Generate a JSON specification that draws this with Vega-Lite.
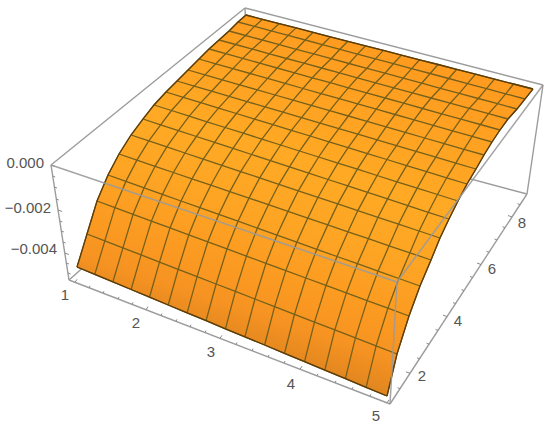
{"$schema":"https://vega.github.io/schema/vega-lite/v6.json","width":550,"height":427,"padding":0,"autosize":"none","background":"white","config":{"view":{"stroke":null}},
"datasets":{
"surface":[{"o":0,"x":246,"y":15},{"o":1,"x":238,"y":22},{"o":2,"x":229,"y":31},{"o":3,"x":219,"y":40},{"o":4,"x":209,"y":49},{"o":5,"x":199,"y":59},{"o":6,"x":188,"y":70},{"o":7,"x":177,"y":81},{"o":8,"x":166,"y":92},{"o":9,"x":154,"y":105},{"o":10,"x":143,"y":119},{"o":11,"x":131,"y":135},{"o":12,"x":119,"y":154},{"o":13,"x":108,"y":175},{"o":14,"x":97,"y":201},{"o":15,"x":87,"y":234},{"o":16,"x":77,"y":267},{"o":17,"x":387,"y":396},{"o":18,"x":397,"y":354},{"o":19,"x":409,"y":316},{"o":20,"x":420,"y":286},{"o":21,"x":431,"y":260},{"o":22,"x":440,"y":238},{"o":23,"x":449,"y":219},{"o":24,"x":458,"y":201},{"o":25,"x":467,"y":184},{"o":26,"x":476,"y":169},{"o":27,"x":484,"y":155},{"o":28,"x":492,"y":142},{"o":29,"x":500,"y":130},{"o":30,"x":508,"y":119},{"o":31,"x":517,"y":109},{"o":32,"x":525,"y":99},{"o":33,"x":533,"y":89}],
"mesh":[
{"r":0,"c":0,"x":246,"y":15},{"r":0,"c":1,"x":262.5,"y":19.3},{"r":0,"c":2,"x":279.2,"y":23.6},{"r":0,"c":3,"x":296.1,"y":27.9},{"r":0,"c":4,"x":313.2,"y":32.3},{"r":0,"c":5,"x":330.4,"y":36.8},{"r":0,"c":6,"x":347.9,"y":41.3},{"r":0,"c":7,"x":365.5,"y":45.8},{"r":0,"c":8,"x":383.4,"y":50.4},{"r":0,"c":9,"x":401.4,"y":55.1},{"r":0,"c":10,"x":419.6,"y":59.8},{"r":0,"c":11,"x":438.1,"y":64.5},{"r":0,"c":12,"x":456.7,"y":69.3},{"r":0,"c":13,"x":475.5,"y":74.2},{"r":0,"c":14,"x":494.5,"y":79.1},{"r":0,"c":15,"x":513.6,"y":84},{"r":0,"c":16,"x":533,"y":89},
{"r":1,"c":0,"x":238,"y":22},{"r":1,"c":1,"x":254.5,"y":26.4},{"r":1,"c":2,"x":271.2,"y":30.9},{"r":1,"c":3,"x":288.1,"y":35.4},{"r":1,"c":4,"x":305.2,"y":40},{"r":1,"c":5,"x":322.4,"y":44.7},{"r":1,"c":6,"x":339.9,"y":49.3},{"r":1,"c":7,"x":357.5,"y":54.1},{"r":1,"c":8,"x":375.4,"y":58.9},{"r":1,"c":9,"x":393.4,"y":63.7},{"r":1,"c":10,"x":411.6,"y":68.6},{"r":1,"c":11,"x":430.1,"y":73.5},{"r":1,"c":12,"x":448.7,"y":78.5},{"r":1,"c":13,"x":467.5,"y":83.6},{"r":1,"c":14,"x":486.5,"y":88.7},{"r":1,"c":15,"x":505.6,"y":93.8},{"r":1,"c":16,"x":525,"y":99},
{"r":2,"c":0,"x":229,"y":31},{"r":2,"c":1,"x":245.6,"y":35.5},{"r":2,"c":2,"x":262.3,"y":40},{"r":2,"c":3,"x":279.3,"y":44.6},{"r":2,"c":4,"x":296.4,"y":49.3},{"r":2,"c":5,"x":313.7,"y":53.9},{"r":2,"c":6,"x":331.2,"y":58.7},{"r":2,"c":7,"x":349,"y":63.5},{"r":2,"c":8,"x":366.9,"y":68.3},{"r":2,"c":9,"x":385,"y":73.2},{"r":2,"c":10,"x":403.2,"y":78.2},{"r":2,"c":11,"x":421.7,"y":83.2},{"r":2,"c":12,"x":440.4,"y":88.3},{"r":2,"c":13,"x":459.3,"y":93.4},{"r":2,"c":14,"x":478.3,"y":98.5},{"r":2,"c":15,"x":497.6,"y":103.7},{"r":2,"c":16,"x":517,"y":109},
{"r":3,"c":0,"x":219,"y":40},{"r":3,"c":1,"x":235.6,"y":44.5},{"r":3,"c":2,"x":252.4,"y":49.1},{"r":3,"c":3,"x":269.4,"y":53.8},{"r":3,"c":4,"x":286.6,"y":58.5},{"r":3,"c":5,"x":304,"y":63.2},{"r":3,"c":6,"x":321.6,"y":68},{"r":3,"c":7,"x":339.4,"y":72.9},{"r":3,"c":8,"x":357.3,"y":77.8},{"r":3,"c":9,"x":375.5,"y":82.8},{"r":3,"c":10,"x":393.8,"y":87.8},{"r":3,"c":11,"x":412.4,"y":92.9},{"r":3,"c":12,"x":431.1,"y":98},{"r":3,"c":13,"x":450.1,"y":103.2},{"r":3,"c":14,"x":469.2,"y":108.4},{"r":3,"c":15,"x":488.5,"y":113.7},{"r":3,"c":16,"x":508,"y":119},
{"r":4,"c":0,"x":209,"y":49},{"r":4,"c":1,"x":225.7,"y":53.7},{"r":4,"c":2,"x":242.7,"y":58.4},{"r":4,"c":3,"x":259.8,"y":63.1},{"r":4,"c":4,"x":277.1,"y":68},{"r":4,"c":5,"x":294.6,"y":72.8},{"r":4,"c":6,"x":312.3,"y":77.8},{"r":4,"c":7,"x":330.2,"y":82.7},{"r":4,"c":8,"x":348.3,"y":87.8},{"r":4,"c":9,"x":366.6,"y":92.9},{"r":4,"c":10,"x":385.1,"y":98},{"r":4,"c":11,"x":403.7,"y":103.2},{"r":4,"c":12,"x":422.6,"y":108.5},{"r":4,"c":13,"x":441.7,"y":113.8},{"r":4,"c":14,"x":460.9,"y":119.1},{"r":4,"c":15,"x":480.4,"y":124.5},{"r":4,"c":16,"x":500,"y":130},
{"r":5,"c":0,"x":199,"y":59},{"r":5,"c":1,"x":215.8,"y":63.8},{"r":5,"c":2,"x":232.9,"y":68.6},{"r":5,"c":3,"x":250.1,"y":73.5},{"r":5,"c":4,"x":267.6,"y":78.4},{"r":5,"c":5,"x":285.2,"y":83.4},{"r":5,"c":6,"x":303,"y":88.5},{"r":5,"c":7,"x":321,"y":93.6},{"r":5,"c":8,"x":339.3,"y":98.7},{"r":5,"c":9,"x":357.7,"y":103.9},{"r":5,"c":10,"x":376.3,"y":109.2},{"r":5,"c":11,"x":395.1,"y":114.5},{"r":5,"c":12,"x":414.1,"y":119.9},{"r":5,"c":13,"x":433.3,"y":125.4},{"r":5,"c":14,"x":452.6,"y":130.9},{"r":5,"c":15,"x":472.2,"y":136.4},{"r":5,"c":16,"x":492,"y":142},
{"r":6,"c":0,"x":188,"y":70},{"r":6,"c":1,"x":205,"y":74.9},{"r":6,"c":2,"x":222.2,"y":79.8},{"r":6,"c":3,"x":239.7,"y":84.8},{"r":6,"c":4,"x":257.3,"y":89.9},{"r":6,"c":5,"x":275.1,"y":95},{"r":6,"c":6,"x":293.1,"y":100.2},{"r":6,"c":7,"x":311.3,"y":105.4},{"r":6,"c":8,"x":329.7,"y":110.7},{"r":6,"c":9,"x":348.3,"y":116},{"r":6,"c":10,"x":367.1,"y":121.4},{"r":6,"c":11,"x":386.1,"y":126.9},{"r":6,"c":12,"x":405.3,"y":132.4},{"r":6,"c":13,"x":424.7,"y":138},{"r":6,"c":14,"x":444.2,"y":143.6},{"r":6,"c":15,"x":464,"y":149.3},{"r":6,"c":16,"x":484,"y":155},
{"r":7,"c":0,"x":177,"y":81},{"r":7,"c":1,"x":194.2,"y":86.1},{"r":7,"c":2,"x":211.6,"y":91.2},{"r":7,"c":3,"x":229.2,"y":96.4},{"r":7,"c":4,"x":247,"y":101.6},{"r":7,"c":5,"x":265,"y":106.9},{"r":7,"c":6,"x":283.1,"y":112.2},{"r":7,"c":7,"x":301.5,"y":117.7},{"r":7,"c":8,"x":320.1,"y":123.1},{"r":7,"c":9,"x":338.9,"y":128.7},{"r":7,"c":10,"x":357.9,"y":134.2},{"r":7,"c":11,"x":377.1,"y":139.9},{"r":7,"c":12,"x":396.5,"y":145.6},{"r":7,"c":13,"x":416.1,"y":151.4},{"r":7,"c":14,"x":435.8,"y":157.2},{"r":7,"c":15,"x":455.8,"y":163.1},{"r":7,"c":16,"x":476,"y":169},
{"r":8,"c":0,"x":166,"y":92},{"r":8,"c":1,"x":183.3,"y":97.3},{"r":8,"c":2,"x":200.8,"y":102.6},{"r":8,"c":3,"x":218.5,"y":108.1},{"r":8,"c":4,"x":236.4,"y":113.5},{"r":8,"c":5,"x":254.6,"y":119.1},{"r":8,"c":6,"x":272.9,"y":124.7},{"r":8,"c":7,"x":291.4,"y":130.3},{"r":8,"c":8,"x":310.1,"y":136},{"r":8,"c":9,"x":329,"y":141.8},{"r":8,"c":10,"x":348.1,"y":147.7},{"r":8,"c":11,"x":367.4,"y":153.6},{"r":8,"c":12,"x":386.9,"y":159.5},{"r":8,"c":13,"x":406.6,"y":165.6},{"r":8,"c":14,"x":426.6,"y":171.6},{"r":8,"c":15,"x":446.7,"y":177.8},{"r":8,"c":16,"x":467,"y":184},
{"r":9,"c":0,"x":154,"y":105},{"r":9,"c":1,"x":171.5,"y":110.5},{"r":9,"c":2,"x":189.2,"y":116.1},{"r":9,"c":3,"x":207,"y":121.8},{"r":9,"c":4,"x":225.1,"y":127.5},{"r":9,"c":5,"x":243.4,"y":133.2},{"r":9,"c":6,"x":261.9,"y":139.1},{"r":9,"c":7,"x":280.6,"y":145},{"r":9,"c":8,"x":299.5,"y":151},{"r":9,"c":9,"x":318.6,"y":157},{"r":9,"c":10,"x":337.9,"y":163.1},{"r":9,"c":11,"x":357.4,"y":169.2},{"r":9,"c":12,"x":377.1,"y":175.5},{"r":9,"c":13,"x":397,"y":181.8},{"r":9,"c":14,"x":417.2,"y":188.1},{"r":9,"c":15,"x":437.5,"y":194.5},{"r":9,"c":16,"x":458,"y":201},
{"r":10,"c":0,"x":143,"y":119},{"r":10,"c":1,"x":160.6,"y":124.8},{"r":10,"c":2,"x":178.4,"y":130.6},{"r":10,"c":3,"x":196.4,"y":136.5},{"r":10,"c":4,"x":214.6,"y":142.4},{"r":10,"c":5,"x":233,"y":148.4},{"r":10,"c":6,"x":251.6,"y":154.5},{"r":10,"c":7,"x":270.4,"y":160.7},{"r":10,"c":8,"x":289.5,"y":166.9},{"r":10,"c":9,"x":308.7,"y":173.2},{"r":10,"c":10,"x":328.1,"y":179.5},{"r":10,"c":11,"x":347.8,"y":185.9},{"r":10,"c":12,"x":367.6,"y":192.4},{"r":10,"c":13,"x":387.6,"y":198.9},{"r":10,"c":14,"x":407.9,"y":205.6},{"r":10,"c":15,"x":428.3,"y":212.3},{"r":10,"c":16,"x":449,"y":219},
{"r":11,"c":0,"x":131,"y":135},{"r":11,"c":1,"x":148.8,"y":140.9},{"r":11,"c":2,"x":166.8,"y":146.9},{"r":11,"c":3,"x":184.9,"y":153},{"r":11,"c":4,"x":203.3,"y":159.1},{"r":11,"c":5,"x":221.9,"y":165.3},{"r":11,"c":6,"x":240.7,"y":171.6},{"r":11,"c":7,"x":259.7,"y":177.9},{"r":11,"c":8,"x":278.9,"y":184.3},{"r":11,"c":9,"x":298.3,"y":190.8},{"r":11,"c":10,"x":318,"y":197.3},{"r":11,"c":11,"x":337.8,"y":203.9},{"r":11,"c":12,"x":357.8,"y":210.6},{"r":11,"c":13,"x":378,"y":217.3},{"r":11,"c":14,"x":398.5,"y":224.2},{"r":11,"c":15,"x":419.1,"y":231},{"r":11,"c":16,"x":440,"y":238},
{"r":12,"c":0,"x":119,"y":154},{"r":12,"c":1,"x":136.9,"y":160.1},{"r":12,"c":2,"x":155.1,"y":166.3},{"r":12,"c":3,"x":173.4,"y":172.5},{"r":12,"c":4,"x":192,"y":178.8},{"r":12,"c":5,"x":210.8,"y":185.2},{"r":12,"c":6,"x":229.8,"y":191.6},{"r":12,"c":7,"x":249,"y":198.1},{"r":12,"c":8,"x":268.4,"y":204.7},{"r":12,"c":9,"x":288,"y":211.4},{"r":12,"c":10,"x":307.8,"y":218.1},{"r":12,"c":11,"x":327.8,"y":224.9},{"r":12,"c":12,"x":348,"y":231.8},{"r":12,"c":13,"x":368.4,"y":238.7},{"r":12,"c":14,"x":389.1,"y":245.8},{"r":12,"c":15,"x":409.9,"y":252.8},{"r":12,"c":16,"x":431,"y":260},
{"r":13,"c":0,"x":108,"y":175},{"r":13,"c":1,"x":125.9,"y":181.4},{"r":13,"c":2,"x":144.1,"y":187.8},{"r":13,"c":3,"x":162.4,"y":194.4},{"r":13,"c":4,"x":181,"y":201},{"r":13,"c":5,"x":199.8,"y":207.7},{"r":13,"c":6,"x":218.8,"y":214.4},{"r":13,"c":7,"x":238,"y":221.2},{"r":13,"c":8,"x":257.4,"y":228.1},{"r":13,"c":9,"x":277,"y":235.1},{"r":13,"c":10,"x":296.8,"y":242.2},{"r":13,"c":11,"x":316.8,"y":249.3},{"r":13,"c":12,"x":337,"y":256.5},{"r":13,"c":13,"x":357.4,"y":263.7},{"r":13,"c":14,"x":378.1,"y":271.1},{"r":13,"c":15,"x":398.9,"y":278.5},{"r":13,"c":16,"x":420,"y":286},
{"r":14,"c":0,"x":97,"y":201},{"r":14,"c":1,"x":114.9,"y":207.6},{"r":14,"c":2,"x":133.1,"y":214.3},{"r":14,"c":3,"x":151.4,"y":221.1},{"r":14,"c":4,"x":170,"y":227.9},{"r":14,"c":5,"x":188.8,"y":234.8},{"r":14,"c":6,"x":207.8,"y":241.8},{"r":14,"c":7,"x":227,"y":248.9},{"r":14,"c":8,"x":246.4,"y":256.1},{"r":14,"c":9,"x":266,"y":263.3},{"r":14,"c":10,"x":285.8,"y":270.6},{"r":14,"c":11,"x":305.8,"y":278},{"r":14,"c":12,"x":326,"y":285.4},{"r":14,"c":13,"x":346.4,"y":292.9},{"r":14,"c":14,"x":367.1,"y":300.6},{"r":14,"c":15,"x":387.9,"y":308.2},{"r":14,"c":16,"x":409,"y":316},
{"r":15,"c":0,"x":87,"y":234},{"r":15,"c":1,"x":104.8,"y":240.9},{"r":15,"c":2,"x":122.9,"y":247.9},{"r":15,"c":3,"x":141.1,"y":254.9},{"r":15,"c":4,"x":159.5,"y":262.1},{"r":15,"c":5,"x":178.2,"y":269.3},{"r":15,"c":6,"x":197.1,"y":276.6},{"r":15,"c":7,"x":216.1,"y":284},{"r":15,"c":8,"x":235.4,"y":291.4},{"r":15,"c":9,"x":254.9,"y":299},{"r":15,"c":10,"x":274.6,"y":306.6},{"r":15,"c":11,"x":294.5,"y":314.3},{"r":15,"c":12,"x":314.5,"y":322.1},{"r":15,"c":13,"x":334.8,"y":329.9},{"r":15,"c":14,"x":355.4,"y":337.9},{"r":15,"c":15,"x":376.1,"y":345.9},{"r":15,"c":16,"x":397,"y":354},
{"r":16,"c":0,"x":77,"y":267},{"r":16,"c":1,"x":94.8,"y":274.4},{"r":16,"c":2,"x":112.9,"y":281.9},{"r":16,"c":3,"x":131.1,"y":289.5},{"r":16,"c":4,"x":149.5,"y":297.2},{"r":16,"c":5,"x":168.2,"y":305},{"r":16,"c":6,"x":187.1,"y":312.8},{"r":16,"c":7,"x":206.1,"y":320.7},{"r":16,"c":8,"x":225.4,"y":328.8},{"r":16,"c":9,"x":244.9,"y":336.9},{"r":16,"c":10,"x":264.6,"y":345},{"r":16,"c":11,"x":284.5,"y":353.3},{"r":16,"c":12,"x":304.5,"y":361.7},{"r":16,"c":13,"x":324.8,"y":370.1},{"r":16,"c":14,"x":345.4,"y":378.7},{"r":16,"c":15,"x":366.1,"y":387.3},{"r":16,"c":16,"x":387,"y":396}],
"boxBack":[{"g":"a","o":0,"x":69,"y":280},{"g":"a","o":1,"x":250,"y":120},{"g":"b","o":0,"x":527,"y":194},{"g":"b","o":1,"x":250,"y":120},{"g":"c","o":0,"x":245,"y":8},{"g":"c","o":1,"x":250,"y":120},{"g":"d","o":0,"x":51,"y":165},{"g":"d","o":1,"x":245,"y":8},{"g":"e","o":0,"x":245,"y":8},{"g":"e","o":1,"x":543,"y":85},{"g":"f","o":0,"x":543,"y":85},{"g":"f","o":1,"x":527,"y":194},{"g":"g","o":0,"x":527,"y":194},{"g":"g","o":1,"x":390,"y":404},{"g":"h","o":0,"x":390,"y":404},{"g":"h","o":1,"x":69,"y":280},{"g":"i","o":0,"x":69,"y":280},{"g":"i","o":1,"x":51,"y":165}],
"boxFront":[{"g":"a","o":0,"x":51,"y":165},{"g":"a","o":1,"x":397,"y":282},{"g":"b","o":0,"x":543,"y":85},{"g":"b","o":1,"x":397,"y":282},{"g":"c","o":0,"x":397,"y":282},{"g":"c","o":1,"x":390,"y":404}],
"ticks":[
{"g":"z0","x":51,"y":165},{"g":"z0","x":55,"y":166.5},{"g":"z1","x":52.7,"y":176},{"g":"z1","x":55.2,"y":177},{"g":"z2","x":54.5,"y":187},{"g":"z2","x":57,"y":188},{"g":"z3","x":56.3,"y":199},{"g":"z3","x":58.8,"y":200},{"g":"z4","x":58.1,"y":210},{"g":"z4","x":62.1,"y":211.5},{"g":"z5","x":59.8,"y":221},{"g":"z5","x":62.3,"y":222},{"g":"z6","x":61.4,"y":231},{"g":"z6","x":63.9,"y":232},{"g":"z7","x":63.1,"y":242},{"g":"z7","x":65.6,"y":243},{"g":"z8","x":64.8,"y":253},{"g":"z8","x":68.8,"y":254.5},{"g":"z9","x":66.4,"y":263},{"g":"z9","x":68.9,"y":264},{"g":"z10","x":68,"y":273},{"g":"z10","x":70.5,"y":274},
{"g":"x0","x":75,"y":282.3},{"g":"x0","x":77,"y":279.3},{"g":"x1","x":89,"y":287.7},{"g":"x1","x":90,"y":285.7},{"g":"x2","x":103,"y":293.1},{"g":"x2","x":104,"y":291.1},{"g":"x3","x":118,"y":298.9},{"g":"x3","x":119,"y":296.9},{"g":"x4","x":132,"y":304.3},{"g":"x4","x":133,"y":302.3},{"g":"x5","x":146,"y":309.7},{"g":"x5","x":148,"y":306.7},{"g":"x6","x":161,"y":315.5},{"g":"x6","x":162,"y":313.5},{"g":"x7","x":176,"y":321.3},{"g":"x7","x":177,"y":319.3},{"g":"x8","x":190,"y":326.7},{"g":"x8","x":191,"y":324.7},{"g":"x9","x":205,"y":332.5},{"g":"x9","x":206,"y":330.5},{"g":"x10","x":220,"y":338.3},{"g":"x10","x":222,"y":335.3},{"g":"x11","x":236,"y":344.5},{"g":"x11","x":237,"y":342.5},{"g":"x12","x":252,"y":350.6},{"g":"x12","x":253,"y":348.6},{"g":"x13","x":268,"y":356.8},{"g":"x13","x":269,"y":354.8},{"g":"x14","x":284,"y":363},{"g":"x14","x":285,"y":361},{"g":"x15","x":300,"y":369.2},{"g":"x15","x":302,"y":366.2},{"g":"x16","x":317,"y":375.7},{"g":"x16","x":318,"y":373.7},{"g":"x17","x":335,"y":382.7},{"g":"x17","x":336,"y":380.7},{"g":"x18","x":352,"y":389.2},{"g":"x18","x":353,"y":387.2},{"g":"x19","x":370,"y":396.2},{"g":"x19","x":371,"y":394.2},{"g":"x20","x":387,"y":402.8},{"g":"x20","x":389,"y":399.8},
{"g":"y0","x":400,"y":388.7},{"g":"y0","x":397.5,"y":387.7},{"g":"y1","x":410,"y":373.3},{"g":"y1","x":406,"y":371.8},{"g":"y2","x":419.5,"y":358.8},{"g":"y2","x":417,"y":357.8},{"g":"y3","x":429,"y":344.2},{"g":"y3","x":426.5,"y":343.2},{"g":"y4","x":438,"y":330.4},{"g":"y4","x":435.5,"y":329.4},{"g":"y5","x":447,"y":316.6},{"g":"y5","x":443,"y":315.1},{"g":"y6","x":455.5,"y":303.6},{"g":"y6","x":453,"y":302.6},{"g":"y7","x":464,"y":290.6},{"g":"y7","x":461.5,"y":289.6},{"g":"y8","x":472.5,"y":277.5},{"g":"y8","x":470,"y":276.5},{"g":"y9","x":481,"y":264.5},{"g":"y9","x":477,"y":263},{"g":"y10","x":489,"y":252.3},{"g":"y10","x":486.5,"y":251.3},{"g":"y11","x":497,"y":240},{"g":"y11","x":494.5,"y":239},{"g":"y12","x":505,"y":227.7},{"g":"y12","x":502.5,"y":226.7},{"g":"y13","x":512,"y":217},{"g":"y13","x":508,"y":215.5},{"g":"y14","x":520,"y":204.7},{"g":"y14","x":517.5,"y":203.7}],
"labels":[{"t":"1","x":65,"y":295},{"t":"2","x":136,"y":323},{"t":"3","x":211,"y":352},{"t":"4","x":291,"y":384},{"t":"5","x":376,"y":416},{"t":"2","x":422,"y":376},{"t":"4","x":458,"y":321},{"t":"6","x":492,"y":269},{"t":"8","x":522,"y":223}],
"zlabels":[{"t":"0.000","x":44,"y":163},{"t":"−0.002","x":51,"y":208},{"t":"−0.004","x":57,"y":249}]
},
"encoding":{"x":{"field":"x","type":"quantitative","axis":null,"scale":{"domain":[0,550],"nice":false,"zero":false}},"y":{"field":"y","type":"quantitative","axis":null,"scale":{"domain":[427,0],"nice":false,"zero":false}}},
"layer":[
{"data":{"name":"boxBack"},"mark":{"type":"line","stroke":"#9c9c9c","strokeWidth":1.4},"encoding":{"detail":{"field":"g"},"order":{"field":"o"}}},
{"data":{"name":"ticks"},"mark":{"type":"line","stroke":"#8a8a8a","strokeWidth":1},"encoding":{"detail":{"field":"g"}}},
{"data":{"name":"surface"},"mark":{"type":"line","filled":true,"strokeWidth":0,"fill":{"gradient":"linear","x1":0.7,"y1":0,"x2":0.3,"y2":1,"stops":[{"offset":0,"color":"#ff981f"},{"offset":0.2,"color":"#ffa021"},{"offset":0.4,"color":"#ffa924"},{"offset":0.53,"color":"#fea624"},{"offset":0.68,"color":"#fc9b21"},{"offset":0.78,"color":"#f69322"},{"offset":0.84,"color":"#e88a20"},{"offset":0.88,"color":"#dc8420"},{"offset":1,"color":"#d5801e"}]}},"encoding":{"order":{"field":"o"}}},
{"data":{"name":"mesh"},"mark":{"type":"line","stroke":"#76601a","strokeWidth":1.3},"encoding":{"detail":{"field":"r"},"order":{"field":"c"}}},
{"data":{"name":"mesh"},"mark":{"type":"line","stroke":"#76601a","strokeWidth":1.3},"encoding":{"detail":{"field":"c"},"order":{"field":"r"}}},
{"data":{"name":"mesh"},"transform":[{"filter":"datum.r==16||datum.r==0"}],"mark":{"type":"line","stroke":"#5e3c08","strokeWidth":1.3},"encoding":{"detail":{"field":"r"},"order":{"field":"c"}}},
{"data":{"name":"mesh"},"transform":[{"filter":"datum.c==0||datum.c==16"}],"mark":{"type":"line","stroke":"#5e3c08","strokeWidth":1.2},"encoding":{"detail":{"field":"c"},"order":{"field":"r"}}},
{"data":{"name":"boxFront"},"mark":{"type":"line","stroke":"#9a9a9a","strokeWidth":1.5,"opacity":0.9},"encoding":{"detail":{"field":"g"},"order":{"field":"o"}}},
{"data":{"name":"labels"},"mark":{"type":"text","font":"Liberation Sans","fontSize":15,"fill":"#555555","align":"center","baseline":"middle"},"encoding":{"text":{"field":"t"}}},
{"data":{"name":"zlabels"},"mark":{"type":"text","font":"Liberation Sans","fontSize":15,"fill":"#555555","align":"right","baseline":"middle"},"encoding":{"text":{"field":"t"}}}
]}
